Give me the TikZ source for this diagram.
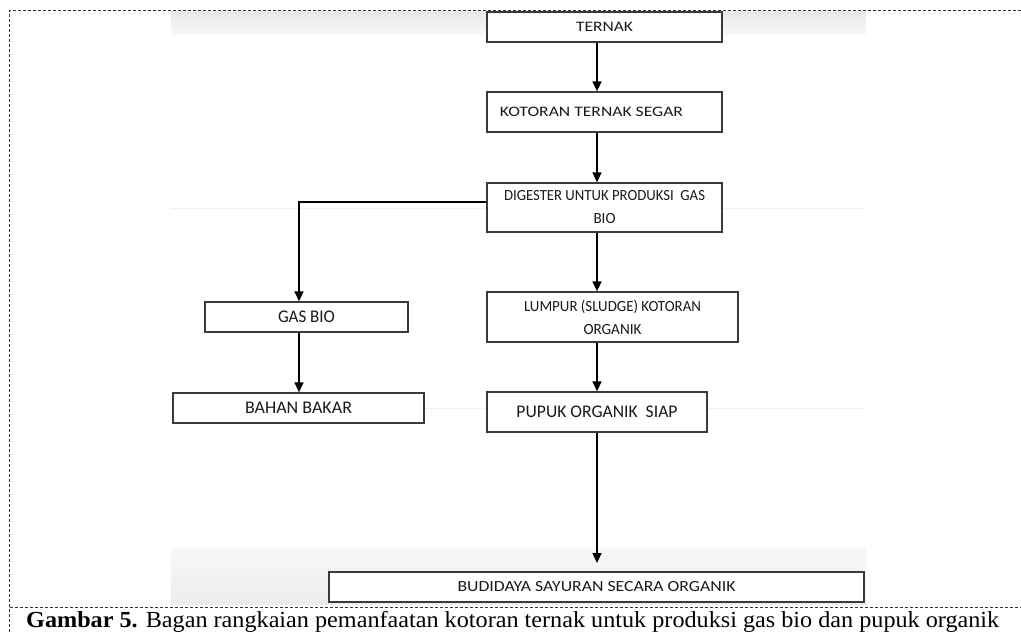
\documentclass[tikz,border=0pt]{standalone}
\usepackage{fontspec}
\setmainfont{Liberation Serif}
\newfontfamily\boxfont{Carlito}
\usepackage{graphicx}
\usetikzlibrary{arrows.meta,calc}
\definecolor{boxline}{HTML}{3A3A3A}
\definecolor{boxtext}{HTML}{1A1A1A}
\definecolor{frameline}{HTML}{333333}
\definecolor{bandA}{HTML}{E8E8E8}
\definecolor{bandB}{HTML}{F8F8F8}
\definecolor{bandC}{HTML}{F8F8F8}
\definecolor{bandD}{HTML}{ECECEC}
\definecolor{faintline}{HTML}{F1F1F1}
\newcommand\lbl[2]{\resizebox{#1pt}{\height}{#2}}
\begin{document}
\begin{tikzpicture}[x=1pt,y=-1pt,
  flowbox/.style={draw=boxline, line width=1.3pt, fill=white, inner sep=0pt, text=boxtext, align=center},
  flowarrow/.style={draw=black, line width=1.4pt, -{Triangle[length=10pt,width=9pt]}},
  framedash/.style={draw=frameline, line width=1pt, dash pattern=on 3pt off 2pt},
  smallfont/.style={font=\boxfont\fontsize{14.5}{20}\selectfont},
  midfont/.style={font=\boxfont\fontsize{15.5}{23}\selectfont},
  bigfont/.style={font=\boxfont\fontsize{17.8}{23}\selectfont},
]
\useasboundingbox (0,0) rectangle (1021,633);
% background bands
\shade[top color=bandA, bottom color=bandB] (171,11) rectangle (866,34);
\shade[top color=bandC, bottom color=bandD] (171,548) rectangle (866,604);
\draw[faintline, line width=1pt] (171,208) -- (866,208);
\draw[faintline, line width=1pt] (171,408) -- (866,408);
% boxes
\node[flowbox, smallfont, minimum width=235pt, minimum height=30pt] (ternak) at (604.5,27) {\lbl{57}{TERNAK}};
\node[flowbox, smallfont, minimum width=235pt, minimum height=40pt] (kotoran) at (604.5,112) {\lbl{183}{KOTORAN TERNAK SEGAR}\hspace*{26pt}};
\node[flowbox, midfont, minimum width=235pt, minimum height=49pt] (digester) at (604.5,207.5) {\lbl{201}{DIGESTER UNTUK PRODUKSI\ \ GAS}\\\lbl{22}{BIO}};
\node[flowbox, midfont, minimum width=251pt, minimum height=50pt] (lumpur) at (612.5,317) {\lbl{177}{LUMPUR (SLUDGE) KOTORAN}\\\lbl{58}{ORGANIK}};
\node[flowbox, bigfont, minimum width=203pt, minimum height=30pt] (gasbio) at (306.5,317) {\lbl{57}{GAS BIO}};
\node[flowbox, bigfont, minimum width=251pt, minimum height=30pt] (bahan) at (298.5,408) {\lbl{107}{BAHAN BAKAR}};
\node[flowbox, bigfont, minimum width=220pt, minimum height=40pt] (pupuk) at (597,412) {\lbl{161}{PUPUK ORGANIK\ \ SIAP}};
\node[flowbox, midfont, minimum width=535pt, minimum height=30pt] (budidaya) at (596.5,587) {\lbl{278}{BUDIDAYA SAYURAN SECARA ORGANIK}};
% connectors
\coordinate (ccol) at (597,0);
\coordinate (lcol) at (299,0);
\coordinate (tip) at (597,563);
\draw[flowarrow] (ternak.south -| ccol) -- (kotoran.north -| ccol);
\draw[flowarrow] (kotoran.south -| ccol) -- (digester.north -| ccol);
\draw[flowarrow] ([yshift=5.5pt]digester.west) -| (gasbio.north -| lcol);
\draw[flowarrow] (digester.south -| ccol) -- (lumpur.north -| ccol);
\draw[flowarrow] (gasbio.south -| lcol) -- (bahan.north -| lcol);
\draw[flowarrow] (lumpur.south -| ccol) -- (pupuk.north -| ccol);
\draw[flowarrow] (pupuk.south -| ccol) -- (tip);
% frame
\draw[framedash] (1021,10.5) -- (9.5,10.5) -- (9.5,633);
\draw[framedash] (9.5,607.5) -- (1021,607.5);
% caption
\node[anchor=base west, inner sep=0pt, font=\fontsize{23}{23}\selectfont] (caption) at (26,627.5) {\lbl{973}{\textbf{Gambar 5.} Bagan rangkaian pemanfaatan kotoran ternak untuk produksi gas bio dan pupuk organik}};
\end{tikzpicture}
\end{document}
